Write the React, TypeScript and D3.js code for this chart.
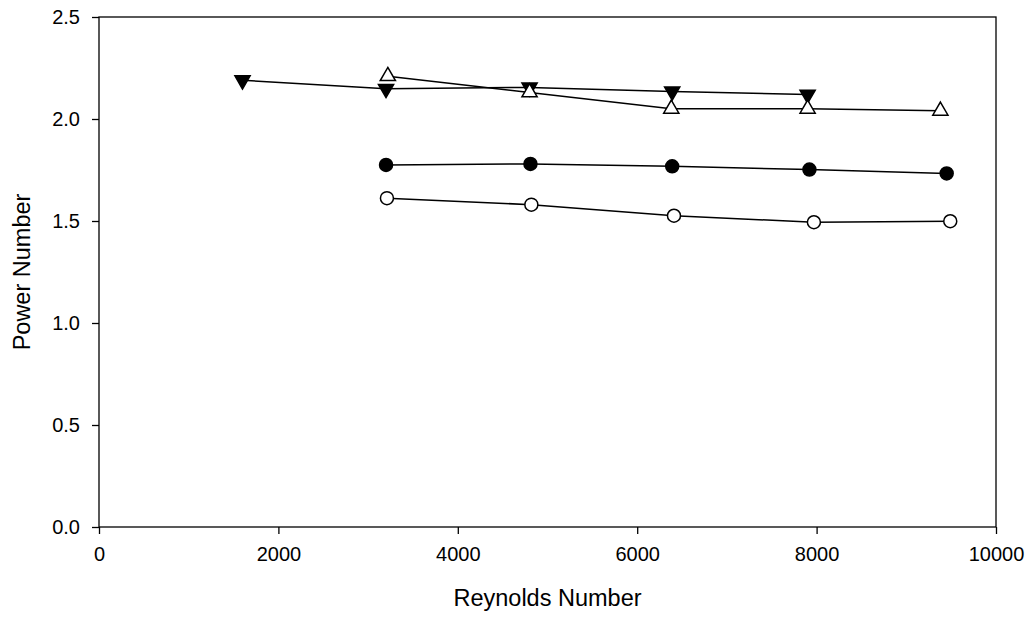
import * as d3 from "d3";
import { useEffect, useRef } from "react";

// Power number vs Reynolds number, four series
const downTriX = [1600, 3200, 4800, 6390, 7900];
const downTriY = [2.19, 2.148, 2.155, 2.135, 2.12];

const upTriX = [3220, 4800, 6380, 7900, 9380];
const upTriY = [2.21, 2.13, 2.05, 2.05, 2.04];

const fillCircX = [3200, 4810, 6390, 7920, 9450];
const fillCircY = [1.775, 1.78, 1.768, 1.752, 1.733];

const openCircX = [3210, 4820, 6410, 7970, 9490];
const openCircY = [1.612, 1.58, 1.526, 1.494, 1.499];

const xTicks = [0, 2000, 4000, 6000, 8000, 10000];
const yTicks = [0.0, 0.5, 1.0, 1.5, 2.0, 2.5];

const App = () => {
  const svgRef = useRef<SVGSVGElement>(null);

  useEffect(() => {
    const svg = d3.select(svgRef.current);
    svg.selectAll("*").remove();

    const left = 99,
      right = 996,
      top = 17,
      bottom = 527;

    const x = d3.scaleLinear().domain([0, 10000]).range([left, right]);
    const y = d3.scaleLinear().domain([0, 2.5]).range([bottom, top]);

    const font = "'Liberation Sans', Arial, sans-serif";

    // frame
    svg
      .append("rect")
      .attr("x", left)
      .attr("y", top)
      .attr("width", right - left)
      .attr("height", bottom - top)
      .attr("fill", "none")
      .attr("stroke", "#000")
      .attr("stroke-width", 1.3);

    // axes
    const xAxis = svg
      .append("g")
      .attr("transform", `translate(0,${bottom})`)
      .call(
        d3
          .axisBottom(x)
          .tickValues(xTicks)
          .tickSize(7)
          .tickPadding(13)
          .tickFormat(d3.format("d"))
      );
    const yAxis = svg
      .append("g")
      .attr("transform", `translate(${left},0)`)
      .call(
        d3
          .axisLeft(y)
          .tickValues(yTicks)
          .tickSize(7)
          .tickPadding(12)
          .tickFormat(d3.format(".1f"))
      );
    [xAxis, yAxis].forEach((a) => {
      a.select(".domain").remove();
      a.selectAll("line").attr("stroke", "#000").attr("stroke-width", 1.3);
      a.selectAll("text")
        .attr("font-family", font)
        .attr("font-size", 20)
        .attr("fill", "#000");
    });

    // axis titles
    svg
      .append("text")
      .attr("x", (left + right) / 2)
      .attr("y", 606)
      .attr("text-anchor", "middle")
      .attr("font-family", font)
      .attr("font-size", 23.5)
      .text("Reynolds Number");
    svg
      .append("text")
      .attr("transform", `translate(30,${(top + bottom) / 2}) rotate(-90)`)
      .attr("text-anchor", "middle")
      .attr("font-family", font)
      .attr("font-size", 23.5)
      .text("Power Number");

    const line = d3
      .line<[number, number]>()
      .x((d) => x(d[0]))
      .y((d) => y(d[1]));

    const series = [
      { xs: downTriX, ys: downTriY, shape: "down", fill: "#000" },
      { xs: upTriX, ys: upTriY, shape: "up", fill: "#fff" },
      { xs: fillCircX, ys: fillCircY, shape: "circle", fill: "#000" },
      { xs: openCircX, ys: openCircY, shape: "circle", fill: "#fff" },
    ];

    series.forEach((s) => {
      const pts = s.xs.map((v, i) => [v, s.ys[i]] as [number, number]);
      svg
        .append("path")
        .attr("d", line(pts))
        .attr("fill", "none")
        .attr("stroke", "#000")
        .attr("stroke-width", 1.5);
    });

    series.forEach((s) => {
      const pts = s.xs.map((v, i) => [v, s.ys[i]] as [number, number]);
      const g = svg.append("g");
      if (s.shape === "circle") {
        g.selectAll("circle")
          .data(pts)
          .join("circle")
          .attr("cx", (d) => x(d[0]))
          .attr("cy", (d) => y(d[1]))
          .attr("r", 6.5)
          .attr("fill", s.fill)
          .attr("stroke", "#000")
          .attr("stroke-width", 1.5);
      } else {
        const tri = d3.symbol().type(d3.symbolTriangle).size(100);
        g.selectAll("path")
          .data(pts)
          .join("path")
          .attr("d", tri())
          .attr(
            "transform",
            (d) =>
              `translate(${x(d[0])},${y(d[1])})` +
              (s.shape === "down" ? " rotate(180)" : "")
          )
          .attr("fill", s.fill)
          .attr("stroke", "#000")
          .attr("stroke-width", 1.5);
      }
    });
  }, []);

  return (
    <div>
      <svg
        ref={svgRef}
        width={1033}
        height={619}
        style={{ position: "absolute", left: 0, top: 0, background: "#fff" }}
      ></svg>
    </div>
  );
};

export default App;
